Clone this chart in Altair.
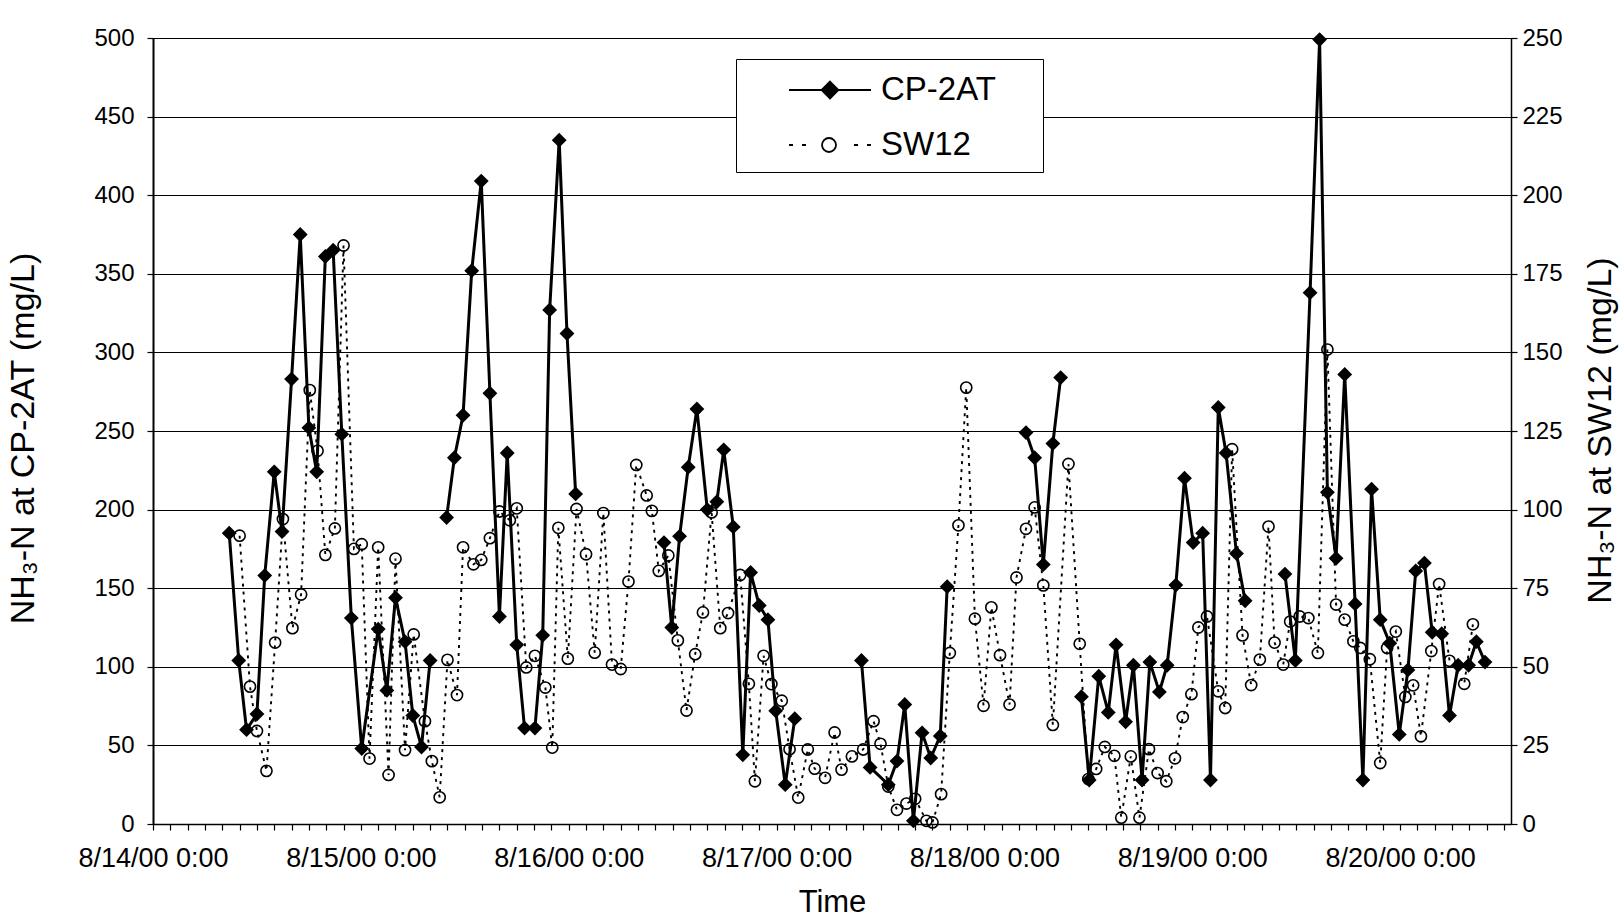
import altair as alt
import pandas as pd

FONT = "Liberation Sans"

# ---- CP-2AT (left axis, mg/L); hours since 8/14/00 0:00, one list per unbroken run
cp_hours = [
    [8.8, 9.9, 10.8, 12.0, 12.9, 14.0, 14.9, 16.0, 17.0, 18.0, 18.9, 19.9, 20.8, 21.8,
     22.9, 24.1, 26.0, 27.0, 28.0, 29.1, 30.0, 31.0, 32.0],
    [33.9, 34.8, 35.8, 36.8, 37.9, 38.9, 40.0, 40.9, 42.0, 42.9, 44.1, 45.0, 45.8, 46.9,
     47.8, 48.8],
    [59.0, 59.9, 60.8, 61.8, 62.8, 64.0, 65.1, 65.9, 67.0, 68.1, 69.0, 70.0, 71.0, 71.9,
     73.0, 74.1],
    [81.8, 82.8, 84.9, 85.9, 86.8, 87.8, 88.8, 89.8, 90.9, 91.7],
    [100.8, 101.8, 102.8, 103.9, 104.8],
    [107.2, 108.1, 109.2, 110.3, 111.2, 112.3, 113.2, 114.2, 115.1, 116.2, 117.1, 118.1,
     119.1, 120.1, 121.2, 122.1, 123.0, 123.9, 125.1, 126.1],
    [130.7, 131.9, 133.6, 134.7, 135.6, 136.6, 137.6, 138.8, 139.7, 140.7, 141.7, 142.8,
     143.9, 144.9, 145.8, 146.8, 147.7, 148.8, 149.7, 150.7, 151.9, 152.8, 153.8],
]
cp_values = [
    [185, 104, 60, 70, 158, 224, 186, 283, 375, 252, 224, 361, 365, 248,
     131, 48, 124, 85, 144, 116, 69, 49, 104],
    [195, 233, 260, 352, 409, 274, 132, 236, 114, 61, 61, 120, 327, 435, 312, 210],
    [179, 125, 183, 227, 264, 200, 205, 238, 189, 44, 160, 139, 130, 72, 25, 67],
    [104, 36, 25, 40, 76, 2, 58, 42, 56, 151],
    [249, 233, 165, 242, 284],
    [81, 28, 94, 71, 114, 65, 101, 28, 103, 84, 101, 152, 220, 179, 185, 28, 265, 236,
     172, 142],
    [159, 104, 338, 499, 211, 169, 286, 140, 28, 213, 130, 115, 57, 98, 161, 166, 122,
     121, 69, 101, 101, 116, 103],
]

# ---- SW12 (right axis, mg/L)
sw_hours = [
    10.0, 11.2, 12.0, 13.1, 14.1, 15.0, 16.1, 17.1, 18.1, 19.0, 19.9, 21.0, 22.0, 23.2,
    24.1, 25.0, 26.0, 27.2, 28.0, 29.1, 30.1, 31.4, 32.2, 33.1, 34.0, 35.1, 35.8, 37.0,
    37.9, 38.9, 40.0, 41.2, 42.0, 43.1, 44.1, 45.3, 46.1, 46.8, 47.9, 48.9, 50.0, 51.0,
    52.0, 53.0, 54.0, 54.9, 55.8, 57.0, 57.6, 58.4, 59.5, 60.6, 61.6, 62.6, 63.5, 64.5,
    65.5, 66.4, 67.8, 68.8, 69.5, 70.5, 71.4, 72.6, 73.5, 74.5, 75.6, 76.4, 77.6, 78.7,
    79.5, 80.7, 82.0, 83.2, 84.0, 84.9, 85.9, 87.0, 88.0, 89.3, 90.0, 91.0, 92.0, 93.0,
    93.9, 94.9, 95.9, 96.8, 97.8, 98.9, 99.7, 100.8, 101.8, 102.8, 103.9, 105.7, 107.0,
    108.0, 108.9, 109.9, 111.0, 111.8, 112.9, 113.9, 115.0, 116.0, 117.0, 118.0, 118.9,
    119.9, 120.7, 121.7, 123.0, 123.8, 124.6, 125.8, 126.8, 127.8, 128.8, 129.5, 130.5,
    131.3, 132.4, 133.4, 134.5, 135.6, 136.6, 137.6, 138.6, 139.4, 140.5, 141.7, 142.5,
    143.5, 144.6, 145.5, 146.4, 147.6, 148.5, 149.7, 151.4, 152.4,
]
sw_values = [
    91.7, 43.7, 29.6, 16.9, 57.7, 97.0, 62.3, 73.0, 138.0, 118.7, 85.6, 94.0, 184.0, 87.5,
    89.0, 20.8, 88.0, 15.6, 84.4, 23.5, 60.3, 32.7, 20.0, 8.5, 52.2, 41.0, 88.0, 82.6,
    84.0, 90.9, 99.4, 96.6, 100.4, 49.8, 53.5, 43.4, 24.3, 94.2, 52.6, 100.2, 85.8, 54.5,
    98.9, 50.7, 49.3, 77.1, 114.2, 104.5, 99.6, 80.5, 85.4, 58.4, 36.1, 54.0, 67.3, 99.1,
    62.3, 67.1, 79.2, 44.6, 13.6, 53.5, 44.5, 39.2, 23.8, 8.4, 23.7, 17.6, 14.7, 29.1,
    17.3, 21.5, 23.7, 32.7, 25.5, 11.9, 4.5, 6.5, 8.0, 1.0, 0.5, 9.5, 54.4, 95.0,
    138.8, 65.3, 37.6, 68.9, 53.7, 38.0, 78.4, 93.9, 100.7, 75.9, 31.5, 114.5, 57.3,
    14.3, 17.5, 24.5, 21.7, 2.0, 21.5, 2.0, 23.8, 16.2, 13.6, 20.9, 34.0,
    41.3, 62.5, 66.0, 42.2, 36.9, 119.2, 60.0, 44.2, 52.3, 94.6, 57.7, 50.7,
    64.4, 66.0, 65.5, 54.4, 150.9, 69.8, 65.0, 58.1, 56.0, 52.4, 19.4, 56.0,
    61.2, 40.4, 44.1, 27.9, 55.0, 76.3, 51.9, 44.6, 63.5,
]

series = ["CP-2AT", "SW12"]
day_labels = ["8/14/00 0:00", "8/15/00 0:00", "8/16/00 0:00", "8/17/00 0:00",
              "8/18/00 0:00", "8/19/00 0:00", "8/20/00 0:00"]
left_ticks = [0, 50, 100, 150, 200, 250, 300, 350, 400, 450, 500]
right_ticks = [0, 25, 50, 75, 100, 125, 150, 175, 200, 225, 250]
x_ticks = list(range(0, 157, 2))
x_max = 156.8

rows = []
for k, (hs, vs) in enumerate(zip(cp_hours, cp_values)):
    for h, v in zip(hs, vs):
        rows.append({"hours": h, "value": v, "run": k})
cp_df = pd.DataFrame(rows)
sw_df = pd.DataFrame({"hours": sw_hours, "value": sw_values})
leg_df = pd.DataFrame({"series": series})

label_list = "[" + ",".join("'" + s + "'" for s in day_labels) + "]"
x_enc = alt.X(
    "hours:Q",
    scale=alt.Scale(domain=[0, x_max], nice=False, zero=False),
    axis=alt.Axis(
        values=x_ticks,
        labelExpr="datum.value % 24 == 0 ? " + label_list + "[datum.value / 24] : ''",
        labelOverlap=False, labelFlush=False, labelBound=False,
        tickSize=6, tickWidth=1.2, domainWidth=1.5, grid=False,
        labelFontSize=27, labelPadding=15,
        title="Time", titleFontSize=31, titleX=679, titleY=78, titleBaseline="middle",
    ),
)
y_left = alt.Y(
    "value:Q",
    scale=alt.Scale(domain=[0, 500], nice=False),
    axis=alt.Axis(
        values=left_ticks, grid=True, gridColor="black", gridWidth=1.2,
        tickSize=6, tickWidth=1.2, domainWidth=2, labelFontSize=24, labelPadding=13,
        title="NH₃-N at CP-2AT (mg/L)", titleFontSize=34, titleAngle=270,
        titleX=-130, titleY=400, titleBaseline="middle", titleAlign="center",
    ),
)
y_right = alt.Y(
    "value:Q",
    scale=alt.Scale(domain=[0, 250], nice=False),
    axis=alt.Axis(
        orient="right", values=right_ticks, grid=False,
        tickSize=6, tickWidth=1.2, domainWidth=1.5, labelFontSize=24, labelPadding=5,
        title="NH₃-N at SW12 (mg/L)", titleFontSize=34, titleAngle=270,
        titleX=89, titleY=392, titleBaseline="middle", titleAlign="center",
    ),
)

cp_line = alt.Chart(cp_df).mark_line(color="black", strokeWidth=3).encode(
    x=x_enc, y=y_left, detail="run:N")
cp_pts = alt.Chart(cp_df).mark_point(shape="diamond", filled=True, color="black",
                                     size=220, opacity=1).encode(x=x_enc, y=y_left)
sw_line = alt.Chart(sw_df).mark_line(color="black", strokeWidth=1.9,
                                     strokeDash=[3, 5]).encode(x=x_enc, y=y_right)
sw_pts = alt.Chart(sw_df).mark_point(shape="circle", filled=False, color="black",
                                     size=125, strokeWidth=1.6, opacity=1).encode(
    x=x_enc, y=y_right)

cp_path = "M1.1,0H5.2M3.15,-0.42L3.57,0L3.15,0.42L2.73,0Z"
sw_path = ("M1.1,0H1.3M1.75,0H1.95M4.35,0H4.55M5.0,0H5.2"
           "M3.45,0A0.35,0.35 0 1,1 2.75,0A0.35,0.35 0 1,1 3.45,0Z")
# trailing blanks kept (a zero-width char ends the label) so the box reaches its width
pad = "\u00a0" * 4 + "\u200b"
leg = alt.Legend(
    orient="none", legendX=583, legendY=21, padding=10,
    strokeColor="black", fillColor="white",
    symbolSize=1600, symbolStrokeWidth=1.8, symbolStrokeColor="black",
    symbolOpacity=1, labelLimit=400,
    rowPadding=17, labelFontSize=33, labelFont=FONT, labelColor="black",
    labelOffset=93, labelExpr="datum.label + '" + pad + "'",
)
# legend-only layer: its rows are filtered out, the legend comes from the fixed domain
legend_layer = alt.Chart(leg_df).transform_filter(
    "datum.series == 'none'"
).mark_point(strokeWidth=1.8).encode(
    shape=alt.Shape("series:N", scale=alt.Scale(domain=series, range=[cp_path, sw_path]),
                    legend=leg, title=None),
    fill=alt.Fill("series:N", scale=alt.Scale(domain=series, range=["black", "white"]),
                  legend=leg, title=None),
    stroke=alt.Stroke("series:N", scale=alt.Scale(domain=series, range=["black", "black"]),
                      legend=leg, title=None),
)

chart = alt.layer(
    alt.layer(cp_line, cp_pts),
    alt.layer(sw_line, sw_pts),
    legend_layer,
).resolve_scale(y="independent").properties(
    width=1358, height=786,
    autosize=alt.AutoSizeParams(type="none"),
    padding={"left": 153, "top": 38, "right": 110, "bottom": 98},
    background="white",
).configure_view(stroke="#444", strokeWidth=1).configure_axis(
    labelFont=FONT, titleFont=FONT, labelColor="black", titleColor="black",
    domainColor="black", tickColor="black", titleFontWeight="normal",
)

chart.save("out.html", embed_options={"renderer": "svg", "actions": False})
